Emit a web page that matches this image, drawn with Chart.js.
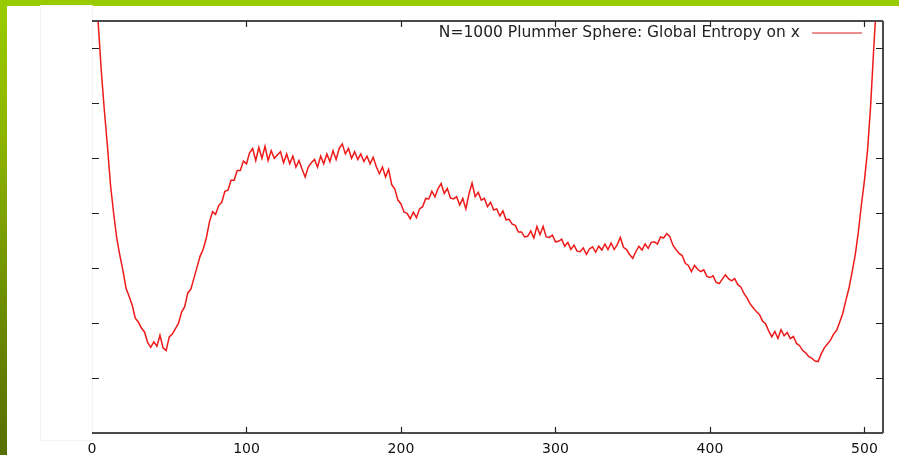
<!DOCTYPE html>
<html>
<head>
<meta charset="utf-8">
<script src="https://cdn.jsdelivr.net/npm/chart.js"></script>
<style>
  body { margin: 0; background: #fff; }
  #wrap { position: relative; width: 899px; height: 455px; overflow: hidden; background: #fff; }
  #topbar { position: absolute; left: 0; top: 0; width: 899px; height: 6px; background: #99cc00; }
  #leftbar { position: absolute; left: 0; top: 0; width: 7px; height: 455px;
             background: linear-gradient(#99cc00, #8db400 30%, #6a8a00 70%, #567000); }
  #ghost { position: absolute; left: 40px; top: 5px; width: 51px; height: 434px; border: 1px solid #f3f3f3; }
  canvas { position: absolute; left: 0; top: 0; }
</style>
</head>
<body>
<div id="wrap">
  <div id="topbar"></div>
  <div id="leftbar"></div>
  <div id="ghost"></div>
  <canvas id="chart" width="899" height="455"></canvas>
</div>
<script>
const seriesLabel = 'N=1000 Plummer Sphere: Global Entropy on x';

const xTicks = [0, 100, 200, 300, 400, 500];

const xs = [
  0, 2, 4, 6, 8, 10, 12, 14, 16, 18, 20, 22, 24, 26, 28, 30, 32, 34, 36, 38,
  40, 42, 44, 46, 48, 50, 52, 54, 56, 58, 60, 62, 64, 66, 68, 70, 72, 74, 76, 78,
  80, 82, 84, 86, 88, 90, 92, 94, 96, 98, 100, 102, 104, 106, 108, 110, 112, 114, 116, 118,
  120, 122, 124, 126, 128, 130, 132, 134, 136, 138, 140, 142, 144, 146, 148, 150, 152, 154, 156, 158,
  160, 162, 164, 166, 168, 170, 172, 174, 176, 178, 180, 182, 184, 186, 188, 190, 192, 194, 196, 198,
  200, 202, 204, 206, 208, 210, 212, 214, 216, 218, 220, 222, 224, 226, 228, 230, 232, 234, 236, 238,
  240, 242, 244, 246, 248, 250, 252, 254, 256, 258, 260, 262, 264, 266, 268, 270, 272, 274, 276, 278,
  280, 282, 284, 286, 288, 290, 292, 294, 296, 298, 300, 302, 304, 306, 308, 310, 312, 314, 316, 318,
  320, 322, 324, 326, 328, 330, 332, 334, 336, 338, 340, 342, 344, 346, 348, 350, 352, 354, 356, 358,
  360, 362, 364, 366, 368, 370, 372, 374, 376, 378, 380, 382, 384, 386, 388, 390, 392, 394, 396, 398,
  400, 402, 404, 406, 408, 410, 412, 414, 416, 418, 420, 422, 424, 426, 428, 430, 432, 434, 436, 438,
  440, 442, 444, 446, 448, 450, 452, 454, 456, 458, 460, 462, 464, 466, 468, 470, 472, 474, 476, 478,
  480, 482, 484, 486, 488, 490, 492, 494, 496, 498, 500, 502, 504, 506, 508, 510, 512
];

const entropy = [
  9.00, 8.30, 7.47, 6.60, 5.87, 5.22, 4.51, 4.00, 3.55, 3.24, 2.96, 2.64, 2.49, 2.33, 2.09, 2.02, 1.91, 1.84, 1.65, 1.56,
  1.66, 1.58, 1.78, 1.55, 1.50, 1.75, 1.80, 1.90, 2.00, 2.20, 2.30, 2.55, 2.62, 2.82, 3.02, 3.22, 3.35, 3.55, 3.84, 4.03,
  3.98, 4.14, 4.20, 4.40, 4.42, 4.60, 4.60, 4.78, 4.78, 4.95, 4.90, 5.10, 5.18, 4.96, 5.20, 5.00, 5.22, 4.96, 5.14, 5.00,
  5.06, 5.12, 4.92, 5.08, 4.90, 5.04, 4.84, 4.96, 4.80, 4.66, 4.84, 4.92, 4.98, 4.84, 5.04, 4.90, 5.08, 4.94, 5.14, 4.98,
  5.18, 5.26, 5.08, 5.18, 5.00, 5.12, 4.98, 5.08, 4.94, 5.04, 4.90, 5.02, 4.85, 4.72, 4.84, 4.66, 4.80, 4.52, 4.44, 4.24,
  4.17, 4.02, 4.00, 3.90, 4.02, 3.92, 4.08, 4.12, 4.27, 4.26, 4.40, 4.30, 4.45, 4.54, 4.36, 4.45, 4.28, 4.26, 4.30, 4.15,
  4.27, 4.08, 4.35, 4.55, 4.30, 4.38, 4.24, 4.27, 4.12, 4.20, 4.06, 4.08, 3.95, 4.04, 3.88, 3.89, 3.80, 3.78, 3.66, 3.66,
  3.57, 3.58, 3.68, 3.55, 3.76, 3.61, 3.76, 3.57, 3.56, 3.60, 3.48, 3.49, 3.53, 3.40, 3.47, 3.34, 3.42, 3.31, 3.30, 3.37,
  3.25, 3.35, 3.39, 3.29, 3.40, 3.33, 3.44, 3.34, 3.46, 3.34, 3.43, 3.56, 3.38, 3.34, 3.25, 3.18, 3.30, 3.40, 3.33, 3.44,
  3.36, 3.47, 3.48, 3.44, 3.57, 3.55, 3.63, 3.58, 3.42, 3.34, 3.27, 3.23, 3.09, 3.05, 2.94, 3.05, 2.98, 2.94, 2.97, 2.85,
  2.83, 2.86, 2.74, 2.72, 2.80, 2.88, 2.81, 2.77, 2.81, 2.70, 2.66, 2.54, 2.46, 2.35, 2.28, 2.21, 2.16, 2.04, 1.99, 1.86,
  1.75, 1.85, 1.72, 1.88, 1.77, 1.83, 1.72, 1.76, 1.63, 1.59, 1.50, 1.46, 1.39, 1.36, 1.31, 1.30, 1.44, 1.55, 1.62, 1.69,
  1.80, 1.87, 2.02, 2.18, 2.42, 2.64, 2.93, 3.24, 3.65, 4.15, 4.60, 5.15, 5.96, 7.00, 7.96, 8.90, 9.80
];

// gnuplot-like frame with inward ticks on all four sides, plus the key in the top right
const framePlugin = {
  id: 'frame',
  afterDraw(chart) {
    const { ctx, chartArea: a, scales: { x, y } } = chart;
    ctx.save();
    ctx.strokeStyle = '#4a4a4a';
    ctx.lineWidth = 2;
    ctx.beginPath();
    ctx.moveTo(a.left, a.top); ctx.lineTo(a.right, a.top);
    ctx.moveTo(a.right, a.top); ctx.lineTo(a.right, a.bottom);
    ctx.moveTo(a.left, a.bottom); ctx.lineTo(a.right, a.bottom);
    ctx.stroke();
    ctx.strokeStyle = '#222';
    ctx.lineWidth = 1.2;
    ctx.beginPath();
    y.ticks.forEach(t => {
      if (!Number.isInteger(t.value) || t.value <= y.min || t.value >= y.max) return;
      const py = Math.round(y.getPixelForValue(t.value)) + 0.5;
      ctx.moveTo(a.left, py); ctx.lineTo(a.left + 7, py);
      ctx.moveTo(a.right, py); ctx.lineTo(a.right - 7, py);
    });
    xTicks.forEach(v => {
      if (v <= x.min) return;
      const px = Math.round(x.getPixelForValue(v)) + 0.5;
      ctx.moveTo(px, a.bottom); ctx.lineTo(px, a.bottom - 6);
      ctx.moveTo(px, a.top); ctx.lineTo(px, a.top + 6);
    });
    ctx.stroke();

    // key: text then line sample
    const ds = chart.data.datasets[0];
    const keyY = a.top + 12;
    const lineEnd = a.right - 21;
    const lineStart = lineEnd - 50;
    ctx.font = '15.5px "DejaVu Sans"';
    ctx.fillStyle = '#222';
    ctx.textAlign = 'right';
    ctx.textBaseline = 'middle';
    ctx.fillText(ds.label, lineStart - 12, keyY);
    ctx.strokeStyle = '#e86a6a';
    ctx.lineWidth = 1.4;
    ctx.beginPath();
    ctx.moveTo(lineStart, keyY); ctx.lineTo(lineEnd, keyY);
    ctx.stroke();
    ctx.restore();
  }
};

new Chart(document.getElementById('chart'), {
  type: 'line',
  data: {
    datasets: [{
      label: seriesLabel,
      data: xs.map((v, i) => ({ x: v, y: entropy[i] })),
      borderColor: '#ee1a1a',
      borderWidth: 1.5,
      pointRadius: 0,
      tension: 0,
      fill: false
    }]
  },
  options: {
    responsive: false,
    animation: false,
    devicePixelRatio: 1,
    layout: { padding: { left: 0, right: 16, top: 21, bottom: 0 } },
    plugins: {
      tooltip: { enabled: false },
      legend: { display: false }
    },
    scales: {
      x: {
        type: 'linear',
        min: 0,
        max: 512,
        grid: { display: false },
        border: { display: false },
        afterBuildTicks: s => { s.ticks = xTicks.map(v => ({ value: v })); },
        ticks: {
          autoSkip: false,
          maxRotation: 0,
          padding: 0,
          color: '#111',
          font: { family: 'DejaVu Sans', size: 14 },
          callback: v => (xTicks.includes(v) ? String(v) : '')
        },
        afterFit: s => { s.height = 22; }
      },
      y: {
        min: 0,
        max: 7.5,
        grid: { display: false },
        border: { display: false },
        ticks: { display: false, stepSize: 1 },
        afterFit: s => { s.width = 92; }
      }
    }
  },
  plugins: [framePlugin]
});
</script>
</body>
</html>
